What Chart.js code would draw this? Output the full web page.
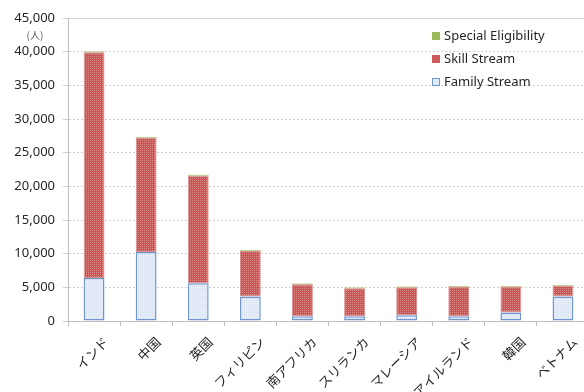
<!DOCTYPE html>
<html>
<head>
<meta charset="utf-8">
<script src="https://cdn.jsdelivr.net/npm/chart.js@4/dist/chart.umd.min.js"></script>
<style>
  html, body { margin: 0; padding: 0; background: #fff; overflow: hidden; }
  #wrap { position: relative; width: 590px; height: 392px; }
</style>
</head>
<body>
<div id="wrap"><canvas id="c"></canvas></div>
<script>
// 国別・カテゴリー別 永住者数（人）
const countries = ['インド', '中国', '英国', 'フィリピン', '南アフリカ', 'スリランカ', 'マレーシア', 'アイルランド', '韓国', 'ベトナム'];
const familyStream = [6400, 10250, 5600, 3650, 700, 700, 850, 700, 1250, 3650];
const skillStream = [33500, 16950, 16000, 6750, 4750, 4150, 4150, 4400, 3850, 1600];
const specialEligibility = [100, 100, 100, 100, 100, 100, 100, 100, 100, 100];
const yTicks = [0, 5000, 10000, 15000, 20000, 25000, 30000, 35000, 40000, 45000];
const seriesNames = ['Family Stream', 'Skill Stream', 'Special Eligibility'];
const unitLabel = '(人)';

// fine dotted fills
function dotPattern(base, dot) {
  const p = document.createElement('canvas');
  p.width = 2; p.height = 2;
  const g = p.getContext('2d');
  g.fillStyle = base; g.fillRect(0, 0, 2, 2);
  g.fillStyle = dot;
  g.fillRect(0, 0, 1, 1);
  return g.createPattern(p, 'repeat');
}
const redFill = dotPattern('#C85454', '#DE8C8A');
const blueFill = dotPattern('#E8EEF8', '#D2DEF0');

const font = { family: "'Noto Sans', 'Noto Sans CJK JP', sans-serif", size: 13 };
const jpFont = { family: "'Noto Sans CJK JP', sans-serif", size: 13 };

// legend drawn over the plot, top-right, highest stack first
const overlayLegend = {
  id: 'overlayLegend',
  afterDraw(chart) {
    const ctx = chart.ctx;
    const items = chart.data.datasets.map((d, i) => ({ d, i })).reverse();
    ctx.save();
    ctx.font = `${font.size}px ${font.family}`;
    ctx.textBaseline = 'middle';
    ctx.textAlign = 'left';
    let y = chart.chartArea.top + 18;
    const x = chart.chartArea.left + 364;
    items.forEach(({ d }) => {
      ctx.fillStyle = d.legendFill;
      ctx.fillRect(x, y - 4, 8, 8);
      if (d.legendBorder) {
        ctx.strokeStyle = d.legendBorder;
        ctx.lineWidth = 1;
        ctx.strokeRect(x + 0.5, y - 3.5, 7, 7);
      }
      ctx.fillStyle = '#262626';
      ctx.fillText(d.label, x + 12, y);
      y += 23;
    });
    ctx.restore();
  }
};

// unit caption under the top tick label
const unitCaption = {
  id: 'unitCaption',
  afterDraw(chart) {
    const ctx = chart.ctx;
    const ys = chart.scales.y;
    ctx.save();
    ctx.font = `10px ${jpFont.family}`;
    ctx.fillStyle = '#595959';
    ctx.textAlign = 'center';
    ctx.textBaseline = 'middle';
    ctx.fillText(unitLabel, 35, ys.getPixelForValue(42500));
    ctx.restore();
  }
};

new Chart(document.getElementById('c'), {
  type: 'bar',
  data: {
    labels: countries,
    datasets: [
      { label: seriesNames[0], data: familyStream, backgroundColor: blueFill, borderColor: '#6F96CF', borderWidth: 1.5, borderSkipped: false, legendFill: '#E3EBF6', legendBorder: '#6F96CF' },
      { label: seriesNames[1], data: skillStream, backgroundColor: redFill, borderColor: '#DA8C8B', borderWidth: 1, borderSkipped: false, legendFill: '#CC5A59' },
      { label: seriesNames[2], data: specialEligibility, backgroundColor: '#9BBB59', borderWidth: 0, legendFill: '#9BBB59' }
    ]
  },
  options: {
    responsive: true,
    maintainAspectRatio: false,
    animation: false,
    events: [],
    layout: { padding: { top: 18, right: 1, left: 0, bottom: 0 } },
    datasets: { bar: { barPercentage: 0.8, categoryPercentage: 0.5 } },
    plugins: { legend: { display: false }, tooltip: { enabled: false } },
    scales: {
      x: {
        stacked: true,
        grid: { drawOnChartArea: false, color: '#BFBFBF', tickLength: 5, offset: true },
        border: { color: '#BFBFBF', width: 1 },
        ticks: { font: jpFont, color: '#262626', minRotation: 45, maxRotation: 45, padding: 8, labelOffset: 12, autoSkip: false },
        afterFit(s) { s.height = 71; }
      },
      y: {
        stacked: true,
        min: yTicks[0],
        max: yTicks[yTicks.length - 1],
        afterBuildTicks(s) { s.ticks = yTicks.map(v => ({ value: v })); },
        grid: { color: '#D0D0D0', tickLength: 5 },
        border: {
          color: '#BFBFBF', width: 1,
          dash: ctx => (ctx.tick && (ctx.tick.value === 0 || ctx.tick.value === 45000)) ? [] : [2, 2]
        },
        ticks: {
          font: font, color: '#262626', padding: 8,
          callback: v => v.toLocaleString('en-US')
        },
        afterFit(s) { s.width = 68; }
      }
    }
  },
  plugins: [overlayLegend, unitCaption]
});
</script>
</body>
</html>
